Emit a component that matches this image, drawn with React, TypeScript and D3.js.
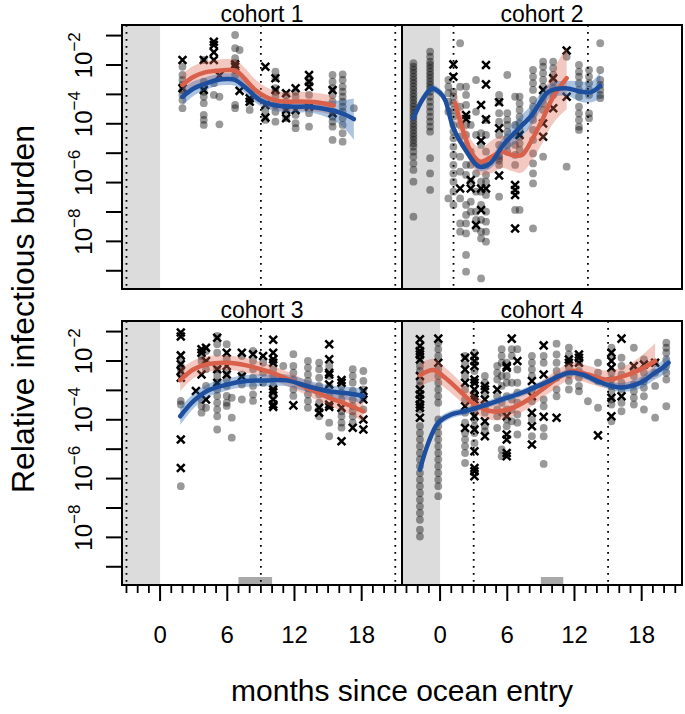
import React from "react";
import * as d3 from "d3";

// ---------------- data ----------------
const cohortTitles = ["cohort 1", "cohort 2", "cohort 3", "cohort 4"];
const yTickExponents = [-1, -2, -3, -4, -5, -6, -7, -8, -9];
const yLabelExponents = [-2, -4, -6, -8];
const xMajorTicks = [0, 6, 12, 18];
const xMinorTicks = [-3, -2, -1, 1, 2, 3, 4, 5, 7, 8, 9, 10, 11, 13, 14, 15, 16, 17, 19, 20, 21];
const monthDomain = [-3.4, 21.6];
const logDomain = [-9.62, -0.64];

// cohort 1
const c1Dotted = [-3, 9, 21];
const c1Months = [2.0, 3.9, 4.8, 5.3, 6.7, 7.1, 8.0, 9.4, 10.3, 11.25, 12.1, 13.3, 15.4, 16.3, 17.3];
const c1Dots = [
  [-2.06, -2.34, -2.51, -2.68, -2.85, -3.02, -3.19, -3.47],
  [-1.83, -2.57, -2.74, -2.91, -3.08, -3.3, -3.7, -3.87, -4.04],
  [-2.62, -3.02],
  [-3.08, -4.02],
  [-0.98, -1.43, -1.77, -1.94, -2.06, -2.17, -2.34, -3.36, -3.47],
  [-1.49],
  [-3.25, -3.53],
  [-3.59, -3.87],
  [-2.23, -2.45, -2.79, -2.91, -3.08, -3.36, -3.59, -3.93],
  [-3.02, -3.25, -3.53, -3.81],
  [-2.91, -3.08, -3.7, -3.98, -4.15],
  [-2.45, -2.62, -3.02, -3.64, -4.1],
  [-2.34, -2.57, -2.79, -3.02, -3.25, -3.59, -3.76, -3.93, -4.1, -4.55],
  [-2.32, -2.51, -2.74, -2.91, -3.08, -3.25, -3.42, -3.59, -3.81, -4.04, -4.32, -4.61],
  [-3.47],
];
const c1Crosses = [
  [-1.83, -2.79],
  [-1.83, -2.85],
  [-1.21, -1.32, -1.57, -1.83],
  [-2.36],
  [-1.98, -2.06],
  [-2.88],
  [-3.13, -3.25],
  [-2.06, -3.36, -3.79],
  [-2.45, -2.85],
  [-2.96, -3.53, -3.81],
  [-2.79, -3.53],
  [-2.34, -2.57, -2.74, -3.42],
  [-2.85, -3.64],
  [],
  [],
];
const c1RedMonths = [2.0, 3.0, 4.0, 5.0, 6.0, 6.8, 7.5, 8.5, 9.5, 10.5, 11.5, 12.5, 13.5, 14.5, 15.5];
const c1RedLog = [-2.68, -2.4, -2.25, -2.2, -2.17, -2.2, -2.45, -2.85, -3.1, -3.22, -3.25, -3.24, -3.25, -3.3, -3.38];
const c1RedHw = [0.38, 0.37, 0.37, 0.37, 0.37, 0.37, 0.37, 0.36, 0.34, 0.32, 0.32, 0.32, 0.32, 0.32, 0.33];
const c1BlueMonths = [2.0, 3.0, 3.9, 5.0, 6.0, 6.7, 7.7, 8.9, 10.1, 11.9, 13.4, 15.2, 16.3, 17.3];
const c1BlueLog = [-3.08, -2.8, -2.66, -2.52, -2.48, -2.51, -2.79, -3.19, -3.36, -3.42, -3.42, -3.53, -3.65, -3.84];
const c1BlueHw = [0.3, 0.25, 0.22, 0.2, 0.2, 0.2, 0.2, 0.2, 0.2, 0.2, 0.2, 0.3, 0.45, 0.7];

// cohort 2
const c2Dotted = [1.2, 13.2];
const c2Months = [-2.38, -0.89, 0.74, 1.19, 1.79, 2.32, 2.74, 3.21, 3.66, 4.1, 5.27, 6.0, 6.7, 7.1, 8.3, 9.2, 10.1, 11.3, 12.4, 13.3, 14.3];
const c2Dots = [
  [-1.94, -2.06, -2.17, -2.28, -2.4, -2.51, -2.62, -2.74, -2.85, -2.97, -3.08, -3.19, -3.31, -3.42, -3.53, -3.65, -3.76, -3.87, -3.99, -4.1, -4.21, -4.33, -4.44, -4.55, -4.67, -4.78, -4.95, -5.12, -5.35, -5.57, -5.97, -7.16],
  [-1.55, -1.72, -1.89, -2.0, -2.11, -2.23, -2.34, -2.45, -2.57, -2.68, -2.79, -2.91, -3.08, -3.25, -3.42, -3.59, -3.76, -3.93, -4.1, -4.27, -5.17, -5.69, -6.25],
  [-2.51, -2.74, -2.96, -3.25, -3.59, -6.54],
  [-2.91, -3.08, -3.3, -3.53, -3.76, -4.04, -4.27, -4.49, -4.78, -5.06, -5.4, -5.69, -5.97, -6.31, -6.76],
  [-1.26, -2.74, -3.42, -4.04, -4.44, -5.12, -5.63, -6.54, -7.39, -7.67],
  [-2.74, -3.02, -3.36, -4.04, -4.38, -4.72, -5.4, -5.74, -6.76, -7.1, -7.39, -7.73, -8.46, -9.03],
  [-4.04, -4.95, -5.4, -5.97, -6.65, -6.99],
  [-2.51, -3.59, -4.38, -5.29, -5.69, -6.31, -6.99, -7.27, -7.56],
  [-4.32, -4.72, -5.4, -5.97, -6.31, -6.76, -7.27, -7.67, -7.9, -9.26],
  [-3.87, -4.38, -4.95, -5.4, -5.74, -5.97, -6.42, -6.99, -7.33, -7.67, -8.01],
  [-3.02, -3.25, -3.64, -3.93, -4.38, -4.72, -5.1, -5.17, -5.25, -5.4, -6.48],
  [-2.34, -3.64, -3.87, -4.04, -4.27, -4.49, -4.72, -4.95],
  [-3.08, -4.04, -4.38, -4.72, -5.06, -5.4, -6.93],
  [-3.08, -3.31, -3.53, -3.76, -3.99, -4.21, -4.44, -4.67, -4.89, -6.93],
  [-2.17, -2.4, -2.62, -2.85, -3.19, -3.42, -3.65, -3.87, -4.21, -4.55, -5.01, -5.35, -5.69, -6.03, -7.56],
  [-1.89, -2.06, -2.28, -2.51, -2.74, -3.08, -3.31, -3.53, -5.12],
  [-1.89, -2.11, -2.34, -2.57, -2.79, -3.02],
  [-1.72, -5.46],
  [-2.0, -2.23, -2.4, -2.62, -2.85, -3.08, -3.42, -3.65, -3.87, -4.1, -4.21],
  [-2.17, -2.4, -2.62, -2.85, -3.02, -3.65, -3.81],
  [-1.26, -2.17, -2.51, -2.68, -2.85, -3.02, -3.13],
];
const c2Crosses = [
  [], [], [],
  [-1.98, -2.4],
  [-6.2],
  [-3.7, -3.84],
  [-5.91, -6.2],
  [-7.44],
  [-3.36, -4.57, -6.2, -6.93],
  [-2.0, -2.66, -3.85, -6.2],
  [-3.27, -4.15, -5.76],
  [],
  [-6.08, -6.25, -6.42, -7.56],
  [-4.38],
  [],
  [-2.85, -3.99, -4.44],
  [-2.45, -3.47],
  [-1.51, -3.08],
  [], [], [],
];
const c2RedMonths = [1.35, 1.94, 2.83, 3.6, 4.6, 5.5, 6.4, 7.3, 8.2, 9.2, 10.1, 11.3];
const c2RedLog = [-3.3, -4.1, -5.0, -5.29, -5.12, -4.95, -5.06, -5.06, -4.55, -3.81, -3.08, -2.45];
const c2RedHw = [0.5, 0.5, 0.42, 0.45, 0.55, 0.55, 0.55, 0.6, 0.7, 0.8, 0.9, 1.05];
const c2BlueMonths = [-2.38, -1.5, -0.7, 0.0, 0.45, 1.19, 2.38, 3.5, 4.46, 5.65, 6.8, 8.2, 9.7, 11.2, 12.6, 13.5, 14.3];
const c2BlueLog = [-3.81, -3.13, -2.8, -2.95, -3.19, -4.15, -4.95, -5.46, -5.35, -4.72, -4.25, -3.7, -2.91, -2.79, -2.91, -2.92, -2.7];
const c2BlueHw = [0.15, 0.15, 0.13, 0.13, 0.15, 0.15, 0.15, 0.15, 0.18, 0.3, 0.38, 0.35, 0.25, 0.25, 0.35, 0.35, 0.45];

// cohort 3
const c3Dotted = [-3, 9, 21];
const c3Bar = [7, 10];
const c3Months = [1.85, 3.2, 3.7, 4.1, 5.1, 5.95, 6.4, 7.3, 8.3, 9.2, 10.1, 11.0, 11.9, 13.2, 14.2, 15.1, 16.2, 17.2, 18.15];
const c3Dots = [
  [-1.94, -2.17, -2.28, -2.46, -3.36, -3.48, -6.26],
  [],
  [-1.83, -2.0, -3.31, -3.53, -3.76],
  [-1.66, -2.06, -2.28, -2.85, -3.59],
  [-1.15, -1.43, -1.72, -2.28, -2.51, -2.74, -2.97, -3.19, -3.42, -3.65, -3.88, -4.33],
  [-1.43, -1.94, -2.4, -2.63, -2.85, -3.19, -3.42, -3.53],
  [-3.25, -3.93, -4.61],
  [-1.83, -2.46, -2.8, -3.31],
  [-1.66, -2.0, -2.28, -2.57, -2.85, -3.14, -3.36],
  [-2.06, -2.4, -2.74],
  [-2.0, -2.28, -2.51, -2.85, -3.19],
  [-2.17],
  [-1.77, -2.17, -2.4, -2.63, -2.97, -3.19],
  [-2.0, -2.23, -2.46, -2.68, -2.91, -3.14, -3.36, -3.59],
  [-2.06, -2.28, -2.57, -2.85, -3.14, -3.42, -3.65, -3.88],
  [-2.17, -2.51, -2.85, -3.19, -3.53, -4.1, -4.56],
  [-2.85, -3.08, -3.31, -3.71, -3.88, -4.1, -4.27],
  [-2.28, -2.51, -2.74, -3.02, -3.31, -3.53, -3.71, -3.88, -4.1],
  [-2.34, -2.68, -2.97, -3.25, -3.65],
];
const c3Crosses = [
  [-1.03, -1.17, -1.81, -2.11, -2.34, -2.57, -4.67, -5.64],
  [-3.02],
  [-1.6, -1.72, -2.46],
  [-1.55, -2.0, -3.31],
  [-1.21, -2.28, -2.74],
  [-1.72, -2.17, -2.46],
  [],
  [-1.72, -2.53],
  [-1.77],
  [-1.83],
  [-1.28, -1.72, -1.94, -2.06, -2.97, -3.06, -3.31, -3.48, -3.56],
  [],
  [-3.51],
  [],
  [-3.59, -3.76],
  [-1.43, -1.94, -2.4, -2.46, -2.8, -3.48, -3.56],
  [-2.65, -2.74, -3.59, -4.73],
  [-4.27],
  [-3.02, -3.31, -3.99, -4.33],
];
const c3RedMonths = [1.8, 3.0, 4.2, 6.0, 7.7, 9.5, 11.3, 13.1, 14.9, 16.7, 18.15];
const c3RedLog = [-2.65, -2.28, -2.11, -2.06, -2.15, -2.34, -2.6, -2.91, -3.22, -3.48, -3.71];
const c3RedHw = [0.38, 0.3, 0.27, 0.25, 0.25, 0.25, 0.25, 0.25, 0.27, 0.3, 0.35];
const c3BlueMonths = [1.8, 3.0, 4.2, 6.0, 7.7, 9.5, 11.3, 13.1, 14.9, 16.7, 18.15];
const c3BlueLog = [-3.88, -3.36, -3.02, -2.8, -2.68, -2.66, -2.66, -2.85, -3.02, -3.1, -3.19];
const c3BlueHw = [0.3, 0.25, 0.22, 0.2, 0.2, 0.2, 0.2, 0.2, 0.2, 0.22, 0.25];

// cohort 4
const c4Dotted = [3, 15];
const c4Bar = [9, 11];
const c4Months = [-1.8, -0.16, 2.23, 3.07, 4.0, 5.1, 5.5, 5.95, 6.4, 6.9, 8.2, 9.25, 10.4, 11.5, 12.4, 13.2, 14.1, 15.3, 16.2, 17.3, 18.2, 19.2, 20.2];
const c4Dots = [
  [-1.72, -1.89, -2.17, -2.34, -2.68, -2.85, -3.2, -3.65, -4.22, -4.45, -4.67, -4.9, -5.13, -5.35, -5.58, -5.81, -6.04, -6.26, -6.49, -6.72, -6.95, -7.17, -7.4, -7.74, -7.97],
  [-1.38, -1.6, -1.83, -2.29, -2.51, -2.74, -2.97, -3.2, -3.42, -3.99, -4.22, -4.45, -4.67, -4.9, -5.13, -5.35, -5.58, -5.81, -6.04, -6.26, -6.6],
  [-1.83, -2.12, -2.51, -2.97, -3.31, -3.76, -4.1, -4.45, -4.67, -4.9, -5.13, -5.47],
  [-1.72, -2.34, -3.08, -3.54, -3.76, -3.99, -4.22, -4.45, -4.79],
  [-2.51, -2.74, -3.14, -3.54, -3.76, -4.22, -4.39],
  [-2.17, -2.4, -2.63, -3.2, -3.65, -3.88, -4.28],
  [-1.6, -1.83, -2.06, -2.51, -2.85, -3.42, -3.76, -5.01, -5.24],
  [-2.06, -2.51, -2.74, -3.2, -3.65, -3.99, -4.22],
  [-1.6, -1.83, -2.74, -3.31, -3.65, -4.05],
  [-1.6, -2.29, -2.74, -3.08, -3.42, -3.82, -4.1, -4.5],
  [-1.83, -2.06, -2.29, -2.51, -2.97, -3.37, -3.99, -4.56],
  [-1.83, -2.06, -2.85, -3.31, -3.54, -4.28, -4.56, -5.5],
  [-1.41, -1.78, -2.06, -2.34, -2.57, -2.97, -3.2],
  [-1.55, -1.78, -2.23, -2.46, -2.68, -2.97],
  [-2.06, -2.34, -2.57, -2.85, -3.03],
  [-3.37],
  [-2.06, -2.4, -2.68, -3.59],
  [-1.55, -1.83, -2.4, -2.63, -2.85, -3.03, -3.31, -3.48, -4.05],
  [-1.89, -2.17, -2.46, -2.74, -2.97, -3.42, -3.71],
  [-1.55, -2.29, -2.51, -2.8, -3.03, -3.25, -3.48],
  [-1.95, -2.4, -2.68, -2.91, -3.2, -3.65],
  [-2.06, -2.4, -2.85, -3.93],
  [-1.38, -1.55, -1.72, -1.95, -2.17, -2.4, -2.63, -3.54],
];
const c4Crosses = [
  [-1.26, -1.49, -1.66, -1.78, -1.95, -2.51, -2.97, -3.14, -3.31, -3.48, -3.59, -3.93],
  [-1.24, -2.06],
  [-1.89, -2.29, -2.74, -3.54, -4.28],
  [-1.83, -2.0, -2.17, -2.63, -2.74, -2.97, -3.2, -3.31, -3.88, -4.33, -5.07, -5.64, -5.75, -5.92],
  [-2.85, -2.97, -3.31, -4.05, -4.56],
  [-2.97],
  [],
  [-2.17, -2.23, -3.88, -4.5, -4.67, -5.13, -5.24],
  [-1.24],
  [-2.0],
  [-2.68, -3.2, -3.76, -4.22, -4.84],
  [-1.47, -2.46, -3.9],
  [-3.93],
  [-1.95, -2.06],
  [-1.78, -1.89, -2.06],
  [],
  [-4.53],
  [-1.72, -2.0, -2.23, -3.25, -3.88],
  [-1.24, -3.2],
  [-2.17],
  [-2.12],
  [-2.06],
  [],
];
const c4RedMonths = [-1.8, -0.6, 0.45, 1.93, 3.1, 4.6, 6.1, 7.9, 9.7, 11.75, 13.2, 15.0, 16.8, 18.0, 19.2];
const c4RedLog = [-2.49, -2.31, -2.57, -3.08, -3.48, -3.71, -3.65, -3.31, -2.8, -2.34, -2.46, -2.63, -2.46, -2.26, -2.0];
const c4RedHw = [0.4, 0.38, 0.35, 0.33, 0.3, 0.3, 0.3, 0.3, 0.3, 0.28, 0.3, 0.3, 0.35, 0.45, 0.6];
const c4BlueMonths = [-1.8, -1.05, -0.16, 1.0, 2.23, 3.7, 5.5, 7.3, 9.4, 11.5, 12.7, 14.4, 16.2, 18.0, 19.0, 19.8, 20.4];
const c4BlueLog = [-5.7, -4.79, -4.1, -3.82, -3.71, -3.54, -3.31, -3.08, -2.74, -2.4, -2.46, -2.74, -2.9, -2.72, -2.45, -2.25, -2.06];
const c4BlueHw = [0.2, 0.18, 0.15, 0.13, 0.12, 0.12, 0.12, 0.12, 0.12, 0.12, 0.13, 0.13, 0.15, 0.2, 0.22, 0.25, 0.3];

// ---------------- layout / style ----------------
const W = 685;
const H = 714;
const PW = 280;
const PH = 264;
const FONT = "'Liberation Sans', Arial, Helvetica, sans-serif";
const RED = "#D9604A";
const BLUE = "#1D4F9E";
const RED_BAND = "rgba(217,96,74,0.35)";
const BLUE_BAND = "rgba(40,100,175,0.38)";

type Cohort = {
  title: string;
  x0: number;
  y0: number;
  dotted: number[];
  bar: number[] | null;
  months: number[];
  dots: number[][];
  crosses: number[][];
  red: [number[], number[], number[]];
  blue: [number[], number[], number[]];
  yAxis: boolean;
};

const cohorts: Cohort[] = [
  { title: cohortTitles[0], x0: 122, y0: 25, dotted: c1Dotted, bar: null, months: c1Months, dots: c1Dots, crosses: c1Crosses, red: [c1RedMonths, c1RedLog, c1RedHw], blue: [c1BlueMonths, c1BlueLog, c1BlueHw], yAxis: true },
  { title: cohortTitles[1], x0: 402, y0: 25, dotted: c2Dotted, bar: null, months: c2Months, dots: c2Dots, crosses: c2Crosses, red: [c2RedMonths, c2RedLog, c2RedHw], blue: [c2BlueMonths, c2BlueLog, c2BlueHw], yAxis: false },
  { title: cohortTitles[2], x0: 122, y0: 321, dotted: c3Dotted, bar: c3Bar, months: c3Months, dots: c3Dots, crosses: c3Crosses, red: [c3RedMonths, c3RedLog, c3RedHw], blue: [c3BlueMonths, c3BlueLog, c3BlueHw], yAxis: true },
  { title: cohortTitles[3], x0: 402, y0: 321, dotted: c4Dotted, bar: c4Bar, months: c4Months, dots: c4Dots, crosses: c4Crosses, red: [c4RedMonths, c4RedLog, c4RedHw], blue: [c4BlueMonths, c4BlueLog, c4BlueHw], yAxis: false },
];

function Panel({ c, idx }: { c: Cohort; idx: number }) {
  const x = d3.scaleLinear().domain(monthDomain).range([c.x0, c.x0 + PW]);
  const y = d3.scaleLog().domain([10 ** logDomain[0], 10 ** logDomain[1]]).range([c.y0 + PH, c.y0]);
  const Y = (L: number) => y(10 ** L);
  const curve = d3.curveCatmullRom.alpha(0.5);
  const toTriples = (s: [number[], number[], number[]]) => s[0].map((m, i) => [m, s[1][i], s[2][i]] as [number, number, number]);
  const line = d3.line<[number, number, number]>().x((d) => x(d[0])).y((d) => Y(d[1])).curve(curve);
  const area = d3
    .area<[number, number, number]>()
    .x((d) => x(d[0]))
    .y0((d) => Y(d[1] - d[2]))
    .y1((d) => Y(d[1] + d[2]))
    .curve(curve);
  const red = toTriples(c.red);
  const blue = toTriples(c.blue);
  const clipId = `clip${idx}`;
  const s = 3.9;
  return (
    <g>
      <defs>
        <clipPath id={clipId}>
          <rect x={c.x0} y={c.y0} width={PW} height={PH} />
        </clipPath>
      </defs>
      <rect x={c.x0} y={c.y0} width={x(0) - c.x0} height={PH} fill="#dcdcdc" />
      {c.bar && (
        <rect x={x(c.bar[0])} y={c.y0 + PH - 8} width={x(c.bar[1]) - x(c.bar[0])} height={8} fill="#a9a9a9" />
      )}
      {c.dotted.map((m) => (
        <line key={m} x1={x(m)} x2={x(m)} y1={c.y0} y2={c.y0 + PH} stroke="#000" strokeWidth={1.8} strokeDasharray="1.8,5.2" />
      ))}
      <g clipPath={`url(#${clipId})`}>
        {c.months.map((m, i) =>
          c.dots[i].map((v, j) => <circle key={`d${i}-${j}`} cx={x(m)} cy={Y(v)} r={3.9} fill="#000" fillOpacity={0.4} />)
        )}
        {c.months.map((m, i) =>
          c.crosses[i].map((v, j) => {
            const cx = x(m);
            const cy = Y(v);
            return (
              <path
                key={`x${i}-${j}`}
                d={`M${cx - s},${cy - s}L${cx + s},${cy + s}M${cx - s},${cy + s}L${cx + s},${cy - s}`}
                stroke="#000"
                strokeWidth={2.5}
                fill="none"
              />
            );
          })
        )}
        <path d={area(red) || ""} fill={RED_BAND} />
        <path d={area(blue) || ""} fill={BLUE_BAND} />
        <path d={line(red) || ""} fill="none" stroke={RED} strokeWidth={4.5} strokeLinecap="round" />
        <path d={line(blue) || ""} fill="none" stroke={BLUE} strokeWidth={4.5} strokeLinecap="round" />
      </g>
      <rect x={c.x0} y={c.y0} width={PW} height={PH} fill="none" stroke="#000" strokeWidth={2} />
      <text x={c.x0 + PW / 2} y={c.y0 - 3} textAnchor="middle" fontSize={23} fontFamily={FONT} fill="#000">
        {c.title}
      </text>
      {c.yAxis && (
        <g>
          {yTickExponents.map((e) => (
            <line key={e} x1={c.x0 - 16} x2={c.x0} y1={Y(e)} y2={Y(e)} stroke="#000" strokeWidth={2} />
          ))}
          {yLabelExponents.map((e) => (
            <text
              key={e}
              transform={`translate(${c.x0 - 30},${Y(e)}) rotate(-90)`}
              x={-13.3}
              textAnchor="start"
              fontSize={24}
              fontFamily={FONT}
              fill="#000"
            >
              10
              <tspan fontSize={17} dy={-12}>
                {"\u2212" + String(-e)}
              </tspan>
            </text>
          ))}
        </g>
      )}
    </g>
  );
}

function XAxis({ x0, y0 }: { x0: number; y0: number }) {
  const x = d3.scaleLinear().domain(monthDomain).range([x0, x0 + PW]);
  return (
    <g>
      {xMinorTicks.map((m) => (
        <line key={`mi${m}`} x1={x(m)} x2={x(m)} y1={y0} y2={y0 + 8} stroke="#000" strokeWidth={1.8} />
      ))}
      {xMajorTicks.map((m) => (
        <line key={`ma${m}`} x1={x(m)} x2={x(m)} y1={y0} y2={y0 + 16} stroke="#000" strokeWidth={2} />
      ))}
      {xMajorTicks.map((m) => (
        <text key={`t${m}`} x={x(m)} y={y0 + 58} textAnchor="middle" fontSize={24} fontFamily={FONT} fill="#000">
          {m}
        </text>
      ))}
    </g>
  );
}

export default function App() {
  return (
    <svg
      width={W}
      height={H}
      viewBox={`0 0 ${W} ${H}`}
      style={{ position: "absolute", left: 0, top: 0, display: "block", background: "#fff" }}
    >
      <rect x={0} y={0} width={W} height={H} fill="#fff" />
      {cohorts.map((c, i) => (
        <Panel key={i} c={c} idx={i} />
      ))}
      <XAxis x0={122} y0={585} />
      <XAxis x0={402} y0={585} />
      <text x={402} y={701} textAnchor="middle" fontSize={30} fontFamily={FONT} fill="#000">
        months since ocean entry
      </text>
      <text transform="translate(34,309) rotate(-90)" textAnchor="middle" fontSize={32} fontFamily={FONT} fill="#000">
        Relative infectious burden
      </text>
    </svg>
  );
}
